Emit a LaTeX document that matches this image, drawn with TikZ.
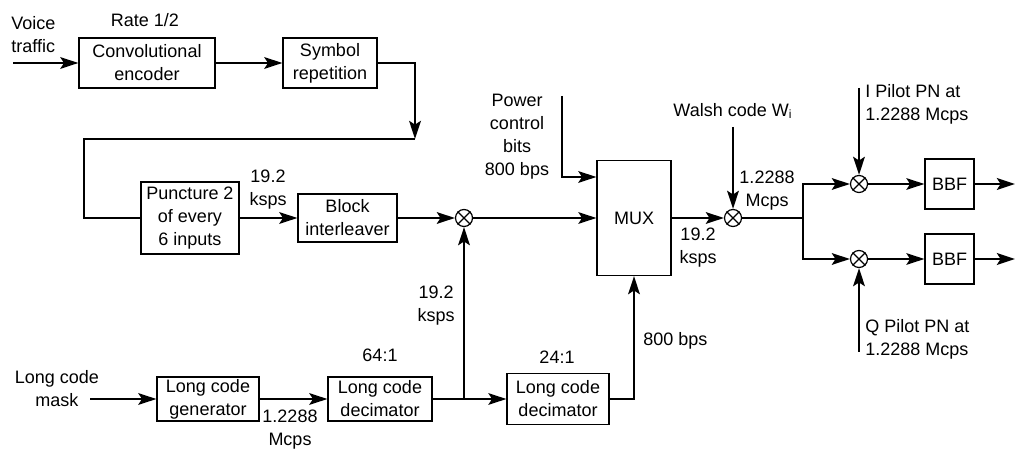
\documentclass[tikz,border=0pt]{standalone}
\usepackage{fontspec}
\setmainfont{Liberation Sans}
\usetikzlibrary{arrows.meta}
\begin{document}
\begin{tikzpicture}[x=0.5pt,y=-0.5pt, font=\fontsize{9}{11.5}\selectfont,
  box/.style={draw, line width=0.6pt, align=center, inner sep=0pt},
  mult/.style={draw, circle, line width=0.6pt, minimum size=8.5pt, inner sep=0pt},
  tip/.style={-{Stealth[length=9pt,width=5.8pt,inset=1.8pt]}},
  flow/.style={line width=1.35pt, tip},
  thinflow/.style={line width=0.9pt, tip},
  wire/.style={line width=1.35pt},
  lbl/.style={align=center, inner sep=0pt}]
\useasboundingbox (0,0) rectangle (1015,453);
% blocks
\node[box, minimum width=68pt, minimum height=25pt] (conv) at (147,63) {Convolutional\\encoder};
\node[box, minimum width=47pt, minimum height=25pt] (sym) at (330,63) {Symbol\\repetition};
\node[box, minimum width=49pt, minimum height=36pt] (punct) at (190,218) {Puncture 2\\of every\\6 inputs};
\node[box, minimum width=49.5pt, minimum height=24pt] (block) at (347.5,218) {Block\\interleaver};
\node[box, minimum width=51pt, minimum height=22pt] (gen) at (208,399) {Long code\\generator};
\node[box, minimum width=52pt, minimum height=22pt] (dec64) at (380,399) {Long code\\decimator};
\node[box, minimum width=51pt, minimum height=25.5pt] (dec24) at (558,399) {Long code\\decimator};
\node[box, minimum width=37pt, minimum height=57.5pt] (mux) at (634,218) {MUX};
\node[box, minimum width=24.5pt, minimum height=25pt] (bbf1) at (949.5,184) {BBF};
\node[box, minimum width=24.5pt, minimum height=25pt] (bbf2) at (949.5,259) {BBF};
% multipliers
\node[mult] (m1) at (464,218) {};
\node[mult] (m2) at (733,218) {};
\node[mult] (m3) at (859,184) {};
\node[mult] (m4) at (859,259) {};
\foreach \m in {m1,m2,m3,m4}
  \draw[line width=0.6pt] (\m.north east) -- (\m.south west) (\m.north west) -- (\m.south east);
% free ends and bends
\coordinate (vin) at (13,63);
\coordinate (c1) at (415,139);
\coordinate (c2) at (84,139);
\coordinate (min) at (90,399);
\coordinate (j) at (464,399);
\coordinate (pw) at (562,96);
\coordinate (wal) at (733,127);
\coordinate (br) at (803,218);
\coordinate (ip) at (859,88);
\coordinate (qp) at (859,352);
\coordinate (o1) at (1015,184);
\coordinate (o2) at (1015,259);
% connectors
\draw[flow] (vin) -- (conv);
\draw[flow] (conv) -- (sym);
\draw[wire] (c1) -- (c2) |- (punct.west);
\draw[flow] (sym.east) -| (c1);
\draw[flow] (punct) -- (block);
\draw[flow] (block) -- (m1);
\draw[flow] (min) -- (gen);
\draw[flow] (gen) -- (dec64);
\draw[wire] (dec64) -- (j);
\draw[thinflow] (j) -- (dec24);
\draw[flow] (j) -- (m1);
\draw[flow] (dec24.east) -| (mux.south);
\draw[flow] (pw) |- (mux.west |- 0,177);
\draw[thinflow] (m1) -- (mux);
\draw[flow] (mux) -- (m2);
\draw[flow] (wal) -- (m2);
\draw[wire] (m2) -- (br);
\draw[flow] (br) |- (m3);
\draw[flow] (br) |- (m4);
\draw[thinflow] (m3) -- (bbf1);
\draw[thinflow] (m4) -- (bbf2);
\draw[flow] (bbf1) -- (o1);
\draw[flow] (bbf2) -- (o2);
\draw[flow] (ip) -- (m3);
\draw[flow] (qp) -- (m4);
% labels
\node[lbl, align=left, anchor=west] (voice) at (11,35) {Voice\\traffic};
\node[lbl] (rate) at (145,20) {Rate 1/2};
\node[lbl] (mask) at (57,389) {Long code\\mask};
\node[lbl] (r1) at (268,190) {19.2\\ksps};
\node[lbl] (r2) at (290,430) {1.2288\\Mcps};
\node[lbl] (r3) at (380,355) {64:1};
\node[lbl, anchor=east] (r4) at (455,306) {19.2\\ksps};
\node[lbl] (r5) at (557,357) {24:1};
\node[lbl, anchor=west] (r6) at (643,341) {800 bps};
\node[lbl] (pcb) at (517,137) {Power\\control\\bits\\800 bps};
\node[lbl] (r7) at (698,248) {19.2\\ksps};
\node[lbl] (walsh) at (733,111) {Walsh code W\textsubscript{i}};
\node[lbl] (r8) at (767,191) {1.2288\\Mcps};
\node[lbl, align=left, anchor=west] (ipl) at (865,104) {I Pilot PN at\\1.2288 Mcps};
\node[lbl, align=left, anchor=west] (qpl) at (865,339) {Q Pilot PN at\\1.2288 Mcps};
\end{tikzpicture}
\end{document}
